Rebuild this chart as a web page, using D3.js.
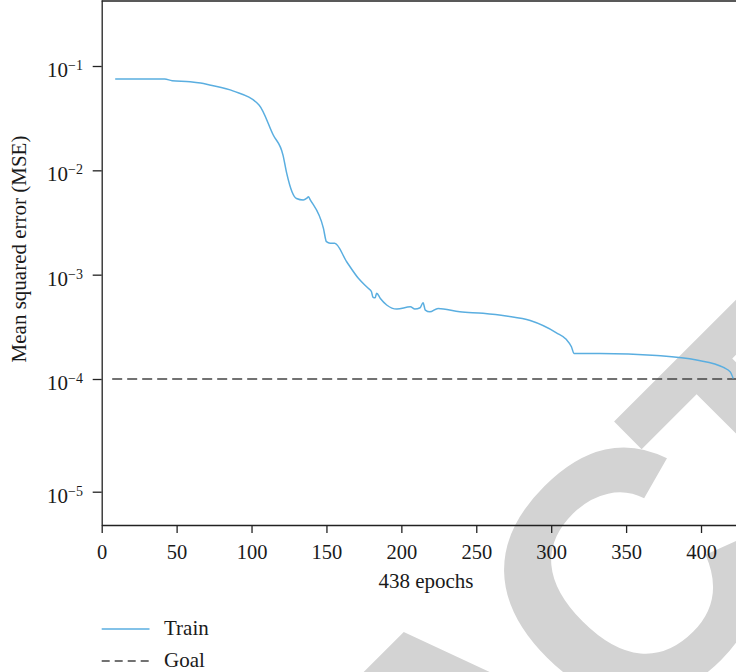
<!DOCTYPE html>
<html>
<head>
<meta charset="utf-8">
<script src="https://cdn.jsdelivr.net/npm/d3@7"></script>
<style>
  body { margin: 0; background: #fff; }
  svg { display: block; }
  text { font-family: "Liberation Serif", "DejaVu Serif", serif; fill: #1a1a1a; }
</style>
</head>
<body>
<div id="chart"></div>
<script>
// training record
const epochs = [9, 42, 47, 59, 66, 72, 88, 105, 114.5, 121, 123.5, 127, 130, 134.5, 137, 138, 139,
  148, 150, 152.5, 155.5, 163.5, 171.3, 177.9, 180, 181, 182.5, 183.5, 186, 190.2, 197, 206, 209,
  212.5, 214.5, 216, 219, 224.5, 239, 254.5, 270, 286, 303.5, 310, 313.5, 315.2, 332.5, 370.5,
  397, 415, 419.5, 421.5];
const mse = [0.0750, 0.0750, 0.0723, 0.0708, 0.0687, 0.0658, 0.0575, 0.0423, 0.0218, 0.0140,
  0.00935, 0.00624, 0.00537, 0.00519, 0.00542, 0.00558, 0.00527, 0.00278, 0.00207, 0.00200,
  0.00200, 0.00133, 0.000923, 0.000740, 0.000690, 0.000610, 0.000600, 0.000665, 0.000590,
  0.000512, 0.000468, 0.000492, 0.000468, 0.000482, 0.000537, 0.000457, 0.000440, 0.000475,
  0.000441, 0.000426, 0.000401, 0.000363, 0.000277, 0.000240, 0.000204, 0.000176, 0.000176,
  0.000168, 0.000152, 0.000129, 0.000117, 0.000101];
const goal = 1e-4;
const goalSpan = [7, 438];
const totalEpochs = 438;

const xTicks = [0, 50, 100, 150, 200, 250, 300, 350, 400];
const yTicks = [1e-5, 1e-4, 1e-3, 1e-2, 1e-1];
const yExponents = ["\u22125", "\u22124", "\u22123", "\u22122", "\u22121"];
const legendLabels = ["Train", "Goal"];

const W = 736, H = 672;
const svg = d3.select("#chart").append("svg").attr("width", W).attr("height", H);

const left = 101.7, bottom = 525;

const x = d3.scaleLinear().domain([0, totalEpochs]).range([left, left + totalEpochs * 1.4983]);
// tick spacing in the source is not quite even, so the log scale is piecewise
const y = d3.scaleLog()
  .domain([Math.pow(10, -5.296), 1e-5, 1e-4, 1e-1, Math.pow(10, -0.367)])
  .range([bottom, 491.7, 379, 66, 0]);

// watermark behind the plot
const wmSize = 350;
const wm = svg.append("g").attr("class", "watermark");
const wmText = wm.append("text")
  .text("RETRACTED")
  .style("font-family", "'Liberation Sans', Arial, sans-serif")
  .style("font-weight", "bold")
  .style("font-size", wmSize + "px")
  .style("letter-spacing", "-28px")
  .style("fill", "#d3d3d3");
const cBox = wmText.node().getExtentOfChar(5);
const cx = cBox.x + cBox.width / 2, cy = -0.36 * wmSize;
wm.attr("transform", `translate(613,585) rotate(-45) translate(${-cx},${-cy})`);

// axes
const axisColor = "#222";
const gx = svg.append("g")
  .attr("transform", `translate(0,${bottom})`)
  .call(d3.axisBottom(x).tickValues(xTicks).tickSize(8).tickSizeOuter(0));
gx.selectAll("text").attr("y", 34).attr("dy", 0).style("font-size", "20.5px");

const gy = svg.append("g")
  .attr("transform", `translate(${left},0)`)
  .call(d3.axisLeft(y).tickValues(yTicks).tickSize(9).tickSizeOuter(0).tickFormat(""));

[gx, gy].forEach(g => {
  g.selectAll("path, line").attr("stroke", axisColor).attr("stroke-width", 1.3);
  g.selectAll("text").attr("fill", "#1a1a1a").style("font-family", "'Liberation Serif', serif");
});

// top frame line
svg.append("line")
  .attr("x1", left).attr("x2", W).attr("y1", 1).attr("y2", 1)
  .attr("stroke", axisColor).attr("stroke-width", 1.3);

// y tick labels as 10 with superscript
const yLab = svg.append("g").selectAll("text")
  .data(yTicks)
  .join("text")
  .attr("x", 83)
  .attr("y", d => y(d) + 11)
  .attr("text-anchor", "end")
  .style("font-size", "21px");
yLab.append("tspan").text("10");
yLab.append("tspan")
  .attr("dy", -7)
  .style("font-size", "14px")
  .text((d, i) => yExponents[i]);

// axis titles
svg.append("text")
  .attr("x", 426).attr("y", 588)
  .attr("text-anchor", "middle")
  .style("font-size", "21px")
  .text(totalEpochs + " epochs");

svg.append("text")
  .attr("transform", "translate(26,249) rotate(-90)")
  .attr("text-anchor", "middle")
  .style("font-size", "21px")
  .text("Mean squared error (MSE)");

// goal line
svg.append("line")
  .attr("x1", x(goalSpan[0])).attr("x2", x(goalSpan[1]))
  .attr("y1", y(goal)).attr("y2", y(goal))
  .attr("stroke", "#444")
  .attr("stroke-width", 1.6)
  .attr("stroke-dasharray", "10,5");

// training curve
const trainColor = "#5aaee0";
const line = d3.line()
  .x(d => x(d[0]))
  .y(d => y(d[1]))
  .curve(d3.curveMonotoneX);

svg.append("path")
  .datum(epochs.map((e, i) => [e, mse[i]]))
  .attr("fill", "none")
  .attr("stroke", trainColor)
  .attr("stroke-width", 1.5)
  .attr("d", line);

// legend
const legend = svg.append("g");
legendLabels.forEach((lab, i) => {
  const ly = 629 + i * 32;
  legend.append("line")
    .attr("x1", 101.7).attr("x2", 149.5)
    .attr("y1", ly).attr("y2", ly)
    .attr("stroke", i === 0 ? trainColor : "#444")
    .attr("stroke-width", i === 0 ? 1.5 : 1.6)
    .attr("stroke-dasharray", i === 0 ? null : "8,5");
  legend.append("text")
    .attr("x", 164).attr("y", ly + 6)
    .style("font-size", "21px")
    .text(lab);
});
</script>
</body>
</html>
